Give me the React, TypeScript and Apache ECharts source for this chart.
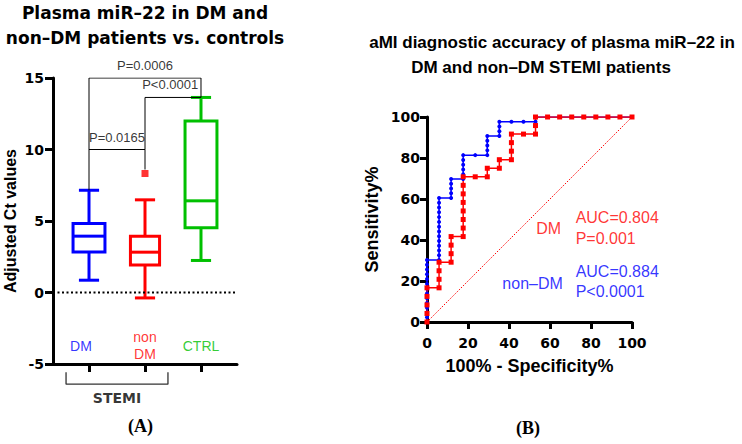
import React, { useEffect, useRef } from 'react';
import * as echarts from 'echarts';

const FONT = "'Liberation Sans', Arial, Helvetica, sans-serif";
const WIDE = "'DejaVu Sans', 'Liberation Sans', Arial, sans-serif";
const SERIF = "'Liberation Serif', 'Times New Roman', serif";

// ---- Panel A: box plot ----
const boxCategories = ['DM', 'non\nDM', 'CTRL'];
const boxColors = ['#0000ff', '#ff0000', '#00c000'];
const labelOffsets = [-8, 0, 0];
// [min, Q1, median, Q3, max]
const boxStats = [
  [0.86, 2.84, 3.94, 4.82, 7.15],
  [-0.38, 1.93, 2.82, 3.94, 6.48],
  [2.24, 4.52, 6.41, 12.0, 13.64],
];
const outliers = [[1, 8.32]];
const sigLabels = [
  { name: 'P=0.0006', value: [1.0, 15] },
  { name: 'P<0.0001', value: [1.45, 13.64] },
  { name: 'P=0.0165', value: [0.5, 10] },
];
const bracket1 = [[0, 7.15], [0, 15], [2, 15], [2, 13.64]];
const bracket2 = [[0, 10], [1, 10], [1, 8.6]];
const bracket3 = [[1, 10], [1, 13.64], [2, 13.64]];
const stemiBracket = [[-0.41, -5.57], [-0.41, -6.41], [1.41, -6.41], [1.41, -5.57]];

// ---- Panel B: ROC curves (100% - specificity, sensitivity) ----
const rocNonDM = [
  [0, 0], [0, 2.33], [0, 4.65], [0, 6.98], [0, 9.3], [0, 11.63], [0, 13.95], [0, 16.28], [0, 18.6], [0, 20.93], [0, 23.26], [0, 25.58], [0, 27.91], [0, 30.23],
  [5.88, 30.23], [5.88, 32.56], [5.88, 34.88], [5.88, 37.21], [5.88, 39.53], [5.88, 41.86], [5.88, 44.19], [5.88, 46.51], [5.88, 48.84], [5.88, 51.16], [5.88, 53.49], [5.88, 55.81], [5.88, 58.14], [5.88, 60.47],
  [11.76, 60.47], [11.76, 62.79], [11.76, 65.12], [11.76, 67.44], [11.76, 69.77],
  [17.65, 69.77], [17.65, 72.09], [17.65, 74.42], [17.65, 76.74], [17.65, 79.07], [17.65, 81.4],
  [23.53, 81.4],
  [29.41, 81.4], [29.41, 83.72], [29.41, 86.05], [29.41, 88.37], [29.41, 90.7],
  [35.29, 90.7], [35.29, 93.02], [35.29, 95.35], [35.29, 97.67],
  [41.18, 97.67], [47.06, 97.67], [52.94, 97.67], [52.94, 100],
  [58.82, 100], [64.71, 100], [70.59, 100], [76.47, 100], [82.35, 100], [88.24, 100], [94.12, 100], [100, 100],
];
const rocDM = [
  [0, 0], [0, 4.17], [0, 8.33], [0, 12.5], [0, 16.67],
  [5.88, 16.67], [5.88, 20.83], [5.88, 25], [5.88, 29.17],
  [11.76, 29.17], [11.76, 33.33], [11.76, 37.5], [11.76, 41.67],
  [17.65, 41.67], [17.65, 45.83], [17.65, 50], [17.65, 54.17], [17.65, 58.33], [17.65, 62.5], [17.65, 66.67], [17.65, 70.83],
  [23.53, 70.83], [29.41, 70.83], [29.41, 75], [35.29, 75], [35.29, 79.17],
  [41.18, 79.17], [41.18, 83.33], [41.18, 87.5], [41.18, 91.67],
  [47.06, 91.67], [52.94, 91.67], [52.94, 95.83], [52.94, 100],
  [58.82, 100], [64.71, 100], [70.59, 100], [76.47, 100], [82.35, 100], [88.24, 100], [94.12, 100], [100, 100],
];
const diagonal = [[0, 0], [100, 100]];
const rocNotes = [
  { name: 'DM', value: [59.3, 45.6], color: '#ff0000', align: 'center' },
  { name: 'AUC=0.804\nP=0.001', value: [72.5, 45.9], color: '#ff0000', align: 'left' },
  { name: 'non–DM', value: [51.5, 19], color: '#0000ff', align: 'center' },
  { name: 'AUC=0.884\nP<0.0001', value: [72.5, 19.8], color: '#0000ff', align: 'left' },
];

export default function App() {
  const ref = useRef<HTMLDivElement>(null);
  useEffect(() => {
    if (!ref.current) return;
    const chart = echarts.init(ref.current, undefined, { renderer: 'svg' });
    const axisLine = { show: true, onZero: false, lineStyle: { color: '#000', width: 3 } };
    const tick = { show: true, length: 7, lineStyle: { color: '#000', width: 3 } };
    const tickLabel = { color: '#000', fontWeight: 'bold', fontSize: 14, fontFamily: WIDE };
    const blackLine = (data: number[][], clip = true) => ({
      type: 'line', xAxisIndex: 0, yAxisIndex: 0, data, symbol: 'none', clip,
      lineStyle: { color: '#000', width: 1 }, silent: true,
    });
    const option: any = {
      animation: false,
      backgroundColor: '#fff',
      title: [
        { text: 'Plasma miR–22 in DM and\nnon–DM patients vs. controls', left: 145, top: 0, textAlign: 'center', padding: 0,
          textStyle: { fontFamily: WIDE, fontWeight: 'bold', fontSize: 17, color: '#000', lineHeight: 25.5 } },
        { text: 'aMI diagnostic accuracy of plasma miR–22 in', left: 552, top: 30, textAlign: 'center', padding: 0,
          textStyle: { fontFamily: FONT, fontWeight: 'bold', fontSize: 17, color: '#000', lineHeight: 25 } },
        { text: 'DM and non–DM STEMI patients', left: 541, top: 55, textAlign: 'center', padding: 0,
          textStyle: { fontFamily: FONT, fontWeight: 'bold', fontSize: 17, color: '#000', lineHeight: 25 } },
      ],
      grid: [
        { left: 53, top: 78, width: 184, height: 286 },
        { left: 427, top: 117, width: 205, height: 205 },
      ],
      xAxis: [
        { gridIndex: 0, type: 'value', min: -0.643, max: 2.643, axisLine,
          axisTick: { ...tick, length: 8, customValues: [0, 1, 2] },
          axisLabel: { show: false }, splitLine: { show: false } },
        { gridIndex: 1, type: 'value', min: 0, max: 100, interval: 20, axisLine, axisTick: tick,
          axisLabel: { ...tickLabel, margin: 14 }, splitLine: { show: false },
          name: '100% - Specificity%', nameLocation: 'middle', nameGap: 35,
          nameTextStyle: { fontFamily: FONT, fontWeight: 'bold', fontSize: 18, color: '#000' } },
      ],
      yAxis: [
        { gridIndex: 0, type: 'value', min: -5, max: 15, interval: 5, axisLine, axisTick: { ...tick, length: 8 },
          axisLabel: { ...tickLabel, margin: 9 }, splitLine: { show: false },
          name: 'Adjusted Ct values', nameLocation: 'middle', nameGap: 35,
          nameTextStyle: { fontFamily: FONT, fontWeight: 'bold', fontSize: 16, color: '#000' } },
        { gridIndex: 1, type: 'value', min: 0, max: 100, interval: 20, axisLine, axisTick: tick,
          axisLabel: { ...tickLabel, margin: 7 }, splitLine: { show: false },
          name: 'Sensitivity%', nameLocation: 'middle', nameGap: 46,
          nameTextStyle: { fontFamily: FONT, fontWeight: 'bold', fontSize: 18, color: '#000' } },
      ],
      series: [
        {
          type: 'line', xAxisIndex: 0, yAxisIndex: 0, data: [[-0.643, 0], [2.643, 0]], symbol: 'none',
          lineStyle: { color: '#000', width: 2, type: [2, 2.5] }, silent: true,
        },
        {
          type: 'custom', xAxisIndex: 0, yAxisIndex: 0,
          data: boxStats.map((s, i) => [i, ...s]),
          encode: { x: 0, y: [1, 2, 3, 4, 5] },
          renderItem: (params: any, api: any) => {
            const i = params.dataIndex;
            const x = api.value(0);
            const pLo = api.coord([x, api.value(1)]);
            const pQ1 = api.coord([x, api.value(2)]);
            const pMed = api.coord([x, api.value(3)]);
            const pQ3 = api.coord([x, api.value(4)]);
            const pHi = api.coord([x, api.value(5)]);
            const cx = pLo[0];
            const bw = api.size([i === 1 ? 0.52 : 0.57, 0])[0];
            const cw = api.size([0.36, 0])[0];
            const color = boxColors[i];
            const st = { stroke: color, lineWidth: 3, fill: 'none', lineCap: 'butt', lineJoin: 'miter' };
            return {
              type: 'group',
              children: [
                { type: 'rect', shape: { x: cx - bw / 2, y: pQ3[1], width: bw, height: pQ1[1] - pQ3[1] }, style: st },
                { type: 'line', shape: { x1: cx - bw / 2, y1: pMed[1], x2: cx + bw / 2, y2: pMed[1] }, style: st },
                { type: 'line', shape: { x1: cx, y1: pQ3[1], x2: cx, y2: pHi[1] }, style: st },
                { type: 'line', shape: { x1: cx - cw / 2, y1: pHi[1], x2: cx + cw / 2, y2: pHi[1] }, style: st },
                { type: 'line', shape: { x1: cx, y1: pQ1[1], x2: cx, y2: pLo[1] }, style: st },
                { type: 'line', shape: { x1: cx - cw / 2, y1: pLo[1], x2: cx + cw / 2, y2: pLo[1] }, style: st },
              ],
            };
          },
        },
        {
          type: 'scatter', xAxisIndex: 0, yAxisIndex: 0, data: outliers, symbol: 'rect', symbolSize: 7,
          itemStyle: { color: '#ff0000' },
        },
        blackLine(bracket1),
        blackLine(bracket2),
        blackLine(bracket3),
        {
          type: 'scatter', xAxisIndex: 0, yAxisIndex: 0, symbolSize: 0, clip: false,
          data: sigLabels,
          label: { show: true, position: 'top', distance: 6, formatter: '{b}', color: '#000', fontSize: 13, fontFamily: FONT },
        },
        {
          type: 'scatter', xAxisIndex: 0, yAxisIndex: 0, symbolSize: 0,
          data: boxCategories.map((c, i) => ({ name: c, value: [i, -3.72], label: { color: boxColors[i], offset: [labelOffsets[i], 0] } })),
          label: { show: true, position: 'inside', formatter: '{b}', fontSize: 14, lineHeight: 16.6, fontFamily: FONT },
        },
        {
          type: 'line', xAxisIndex: 0, yAxisIndex: 0, data: stemiBracket, symbol: 'none', clip: false,
          lineStyle: { color: '#333', width: 1.3 }, silent: true,
        },
        {
          type: 'scatter', xAxisIndex: 0, yAxisIndex: 0, symbolSize: 0, clip: false,
          data: [{ name: 'STEMI', value: [0.5, -6.41] }],
          label: { show: true, position: 'bottom', distance: 7, formatter: '{b}', color: '#000', fontWeight: 'bold', fontSize: 14, fontFamily: WIDE },
        },
        {
          type: 'line', xAxisIndex: 1, yAxisIndex: 1, data: diagonal, symbol: 'none',
          lineStyle: { color: '#ff0000', width: 1, type: [1.5, 1.5] }, silent: true,
        },
        {
          type: 'line', xAxisIndex: 1, yAxisIndex: 1, data: rocNonDM, symbol: 'circle', symbolSize: 4, showSymbol: true,
          lineStyle: { color: '#0000ff', width: 1.5 }, itemStyle: { color: '#0000ff' },
        },
        {
          type: 'line', xAxisIndex: 1, yAxisIndex: 1, data: rocDM, symbol: 'rect', symbolSize: 5, showSymbol: true,
          lineStyle: { color: '#ff0000', width: 1.5 }, itemStyle: { color: '#ff0000' },
        },
        {
          type: 'scatter', xAxisIndex: 1, yAxisIndex: 1, symbolSize: 0,
          data: rocNotes.map((n) => ({ name: n.name, value: n.value, label: { color: n.color, align: n.align } })),
          label: { show: true, position: 'inside', formatter: '{b}', fontSize: 16, lineHeight: 20.5, fontFamily: FONT },
        },
      ],
      graphic: [
        { type: 'text', left: 128, top: 417, style: { text: '(A)', font: `bold 18px ${SERIF}`, fill: '#000' } },
        { type: 'text', left: 516, top: 419, style: { text: '(B)', font: `bold 18px ${SERIF}`, fill: '#000' } },
      ],
    };
    chart.setOption(option);
    return () => chart.dispose();
  }, []);
  return <div ref={ref} style={{ width: 742, height: 444, position: 'absolute', left: 0, top: 0 }} />;
}
